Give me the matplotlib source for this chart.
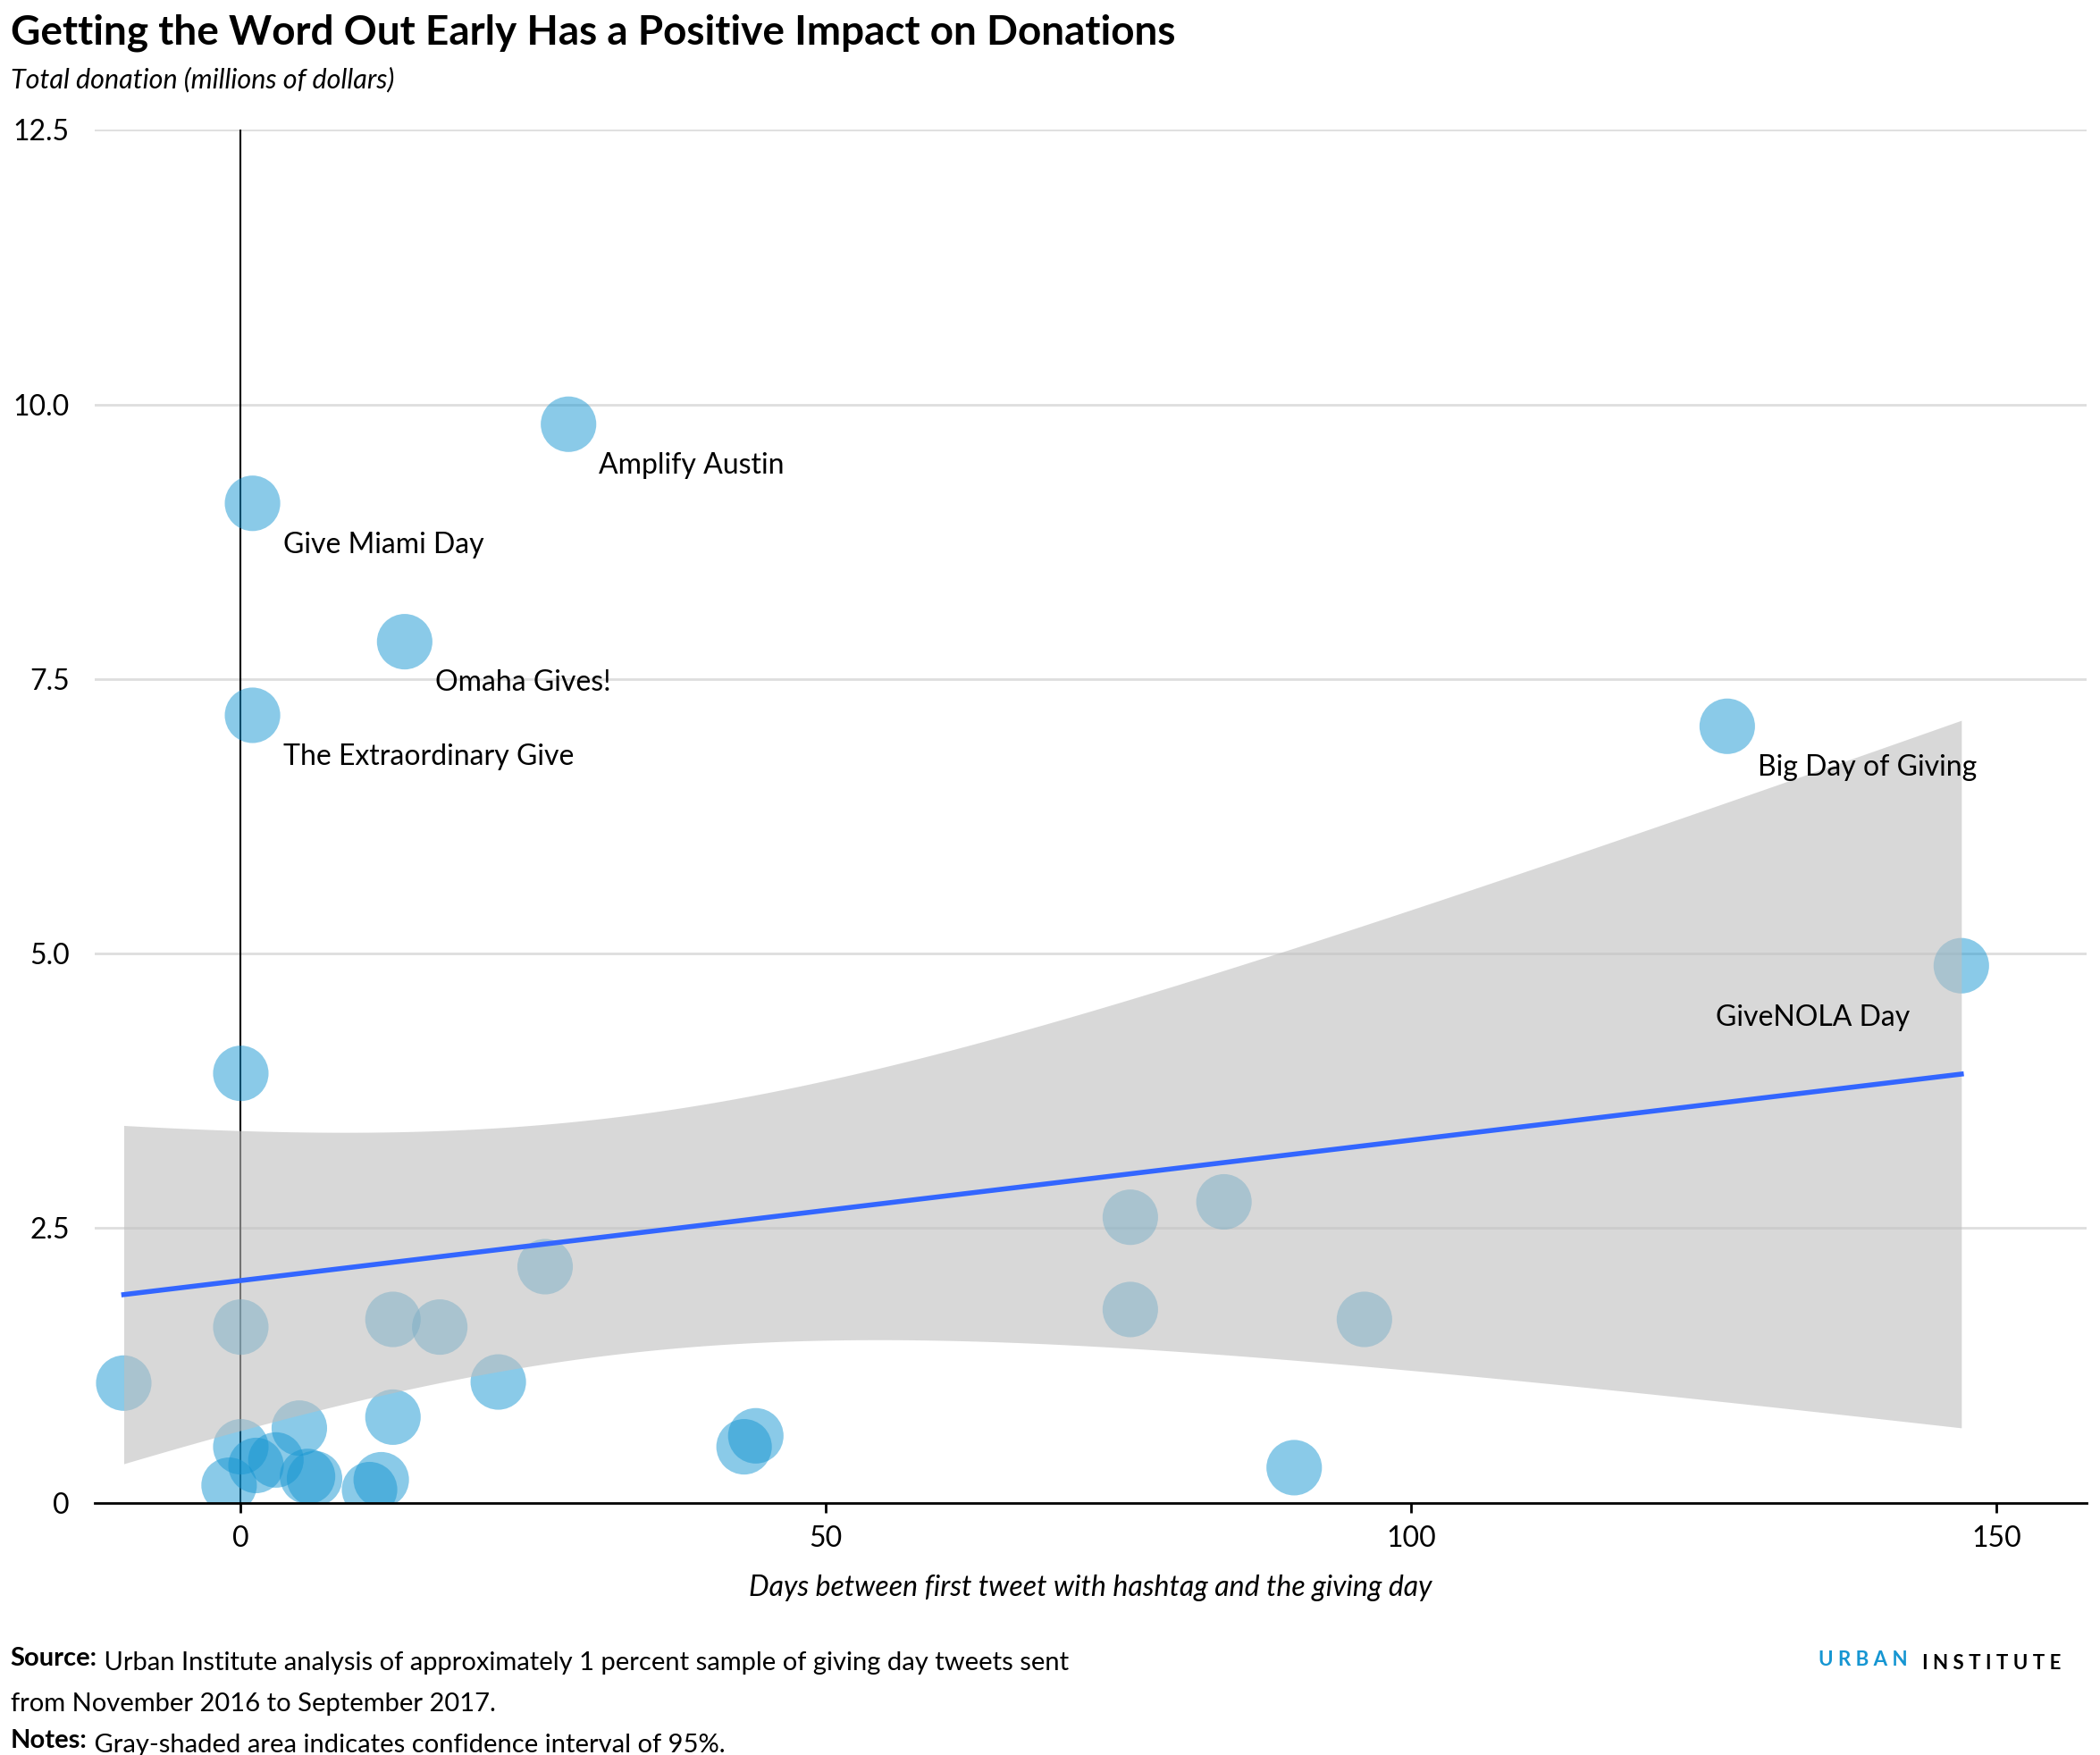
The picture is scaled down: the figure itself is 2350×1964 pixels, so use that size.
import numpy as np
import matplotlib.pyplot as plt

plt.rcParams['font.family'] = ['Lato', 'DejaVu Sans']

days = [-10, 0, 0, 0, -1, 1, 1, 28, 14, 127, 147, 1.3, 3, 5, 5.7, 6.3, 11, 12, 13, 13,
        17, 22, 26, 43, 44, 76, 76, 84, 96, 90]
donation = [1.09, 3.91, 1.60, 0.51, 0.16, 9.10, 7.17, 9.82, 7.84, 7.07, 4.89, 0.34, 0.39,
            0.68, 0.24, 0.22, 0.12, 0.21, 0.78, 1.67, 1.60, 1.10, 2.15, 0.51, 0.61, 2.60,
            1.76, 2.74, 1.67, 0.32]
labels = {'Amplify Austin': (28, 9.82), 'Give Miami Day': (1, 9.10),
          'Omaha Gives!': (14, 7.84), 'The Extraordinary Give': (1, 7.17),
          'Big Day of Giving': (127, 7.07), 'GiveNOLA Day': (147, 4.89)}

x = np.array(days, float)
y = np.array(donation, float)
n = len(x)
b, a = np.polyfit(x, y, 1)
xs = np.linspace(x.min(), x.max(), 200)
resid = y - (a + b * x)
s = np.sqrt((resid ** 2).sum() / (n - 2))
se = s * np.sqrt(1 / n + (xs - x.mean()) ** 2 / ((x - x.mean()) ** 2).sum())
t = 2.048
fit = a + b * xs

fig = plt.figure(figsize=(23.5, 19.64), dpi=100)
ax = fig.add_axes([0.045, 0.1437, 0.9486, 0.7823])
ax.set_xlim(-12.5, 157.7)
ax.set_ylim(0, 12.5)
for v in [2.5, 5, 7.5, 10, 12.5]:
    ax.axhline(v, color='#dedede', lw=2, zorder=0)
ax.axvline(0, color='black', lw=1.5, zorder=1)
ax.scatter(x, y, s=2000, color='#1696d2', alpha=0.5, edgecolors='none', zorder=2)
ax.fill_between(xs, fit - t * se, fit + t * se, color='#bfbfbf', alpha=0.6, lw=0, zorder=3)
ax.plot(xs, fit, color='#3366ff', lw=4, zorder=4)
for name, (px, py) in labels.items():
    if name == 'GiveNOLA Day':
        ax.text(px - 21, py - 0.55, name, fontsize=23, zorder=5)
    else:
        ax.text(px + 2.6, py - 0.45, name, fontsize=23, zorder=5)

for sp in ['top', 'right', 'left']:
    ax.spines[sp].set_visible(False)
ax.spines['bottom'].set_linewidth(2)
ax.set_xticks([0, 50, 100, 150])
ax.set_yticks([0, 2.5, 5, 7.5, 10, 12.5])
ax.set_yticklabels(['0', '2.5', '5.0', '7.5', '10.0', '12.5'])
ax.tick_params(axis='y', length=0, labelsize=23, pad=20)
ax.tick_params(axis='x', length=8, width=2, labelsize=23, pad=10)
ax.set_xlabel('Days between first tweet with hashtag and the giving day',
              fontsize=23, style='italic', labelpad=18)

fig.text(0.005, 0.992, 'Getting the Word Out Early Has a Positive Impact on Donations',
         fontsize=33, weight='bold', va='top')
fig.text(0.005, 0.962, 'Total donation (millions of dollars)', fontsize=22,
         style='italic', va='top')


def note(ypos, head, body):
    h = fig.text(0.005, ypos, head, fontsize=21, weight='bold', va='baseline')
    fig.canvas.draw()
    ax.annotate(' ' + body, xy=(1, 0), xycoords=h, va='baseline', fontsize=21,
                annotation_clip=False)


note(0.051, 'Source:', 'Urban Institute analysis of approximately 1 percent sample of giving day tweets sent')
fig.text(0.005, 0.025, 'from November 2016 to September 2017.', fontsize=21, va='baseline')
note(0.001 + 0.003, 'Notes:', 'Gray-shaded area indicates confidence interval of 95%.')
u = fig.text(0.866, 0.051, 'U R B A N', fontsize=16, weight='bold', color='#1696d2', va='baseline')
fig.canvas.draw()
ax.annotate('   I N S T I T U T E', xy=(1, 0), xycoords=u, fontsize=16, weight='bold',
            va='baseline', annotation_clip=False)
fig.savefig('out.png', dpi=100)
